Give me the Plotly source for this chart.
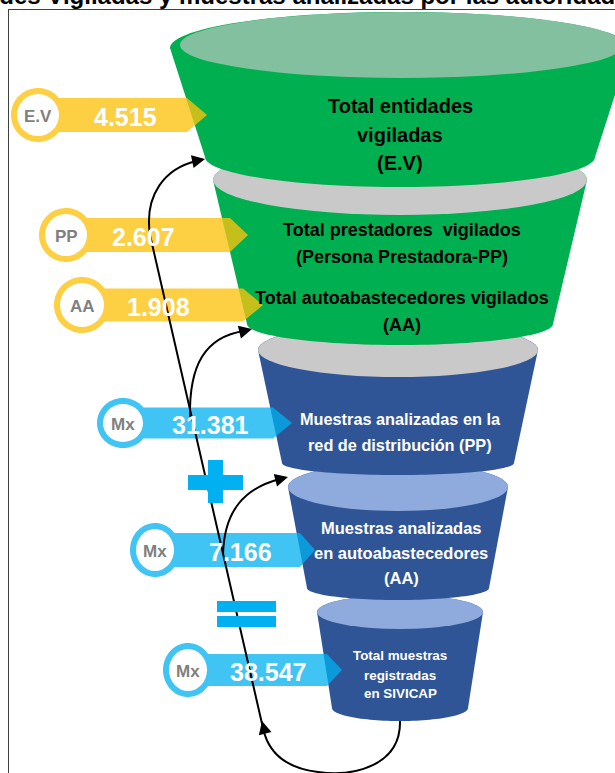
import numpy as np
import plotly.graph_objects as go

# ---------------- data ----------------
title_text = "Entidades Vigiladas y muestras analizadas por las autoridades sanitarias"
badge_labels = ["E.V", "PP", "AA", "Mx", "Mx", "Mx"]
badge_values = [4515, 2607, 1908, 31381, 7166, 38547]
badge_groups = ["entidades", "entidades", "entidades", "muestras", "muestras", "muestras"]
stage_lines = [
    ["Total entidades", "vigiladas", "(E.V)"],
    ["Total prestadores  vigilados", "(Persona Prestadora-PP)",
     "Total autoabastecedores vigilados", "(AA)"],
    ["Muestras analizadas en la", "red de distribución (PP)"],
    ["Muestras analizadas", "en autoabastecedores", "(AA)"],
    ["Total muestras", "registradas", "en SIVICAP"],
]

# ---------------- layout / style ----------------
W, H = 615, 773
FONT = "Liberation Sans, Arial, sans-serif"
GREEN, LGREEN = "#00B050", "#83C09F"
DBLUE, LBLUE, GRAY = "#2F5597", "#8FAADC", "#C9C9C9"
group_color = {"entidades": "rgba(252,195,14,0.78)", "muestras": "rgba(0,176,240,0.75)"}

segments = [
    dict(cx=400, ty=48, trx=230, tr=36, by=157, brx=195, br=30, body=GREEN, cap=(402, 45, 222, 33, LGREEN)),
    dict(cx=400, ty=180, trx=187, tr=35, by=324, brx=153, br=21, body=GREEN, cap=(400, 180, 187, 35, GRAY)),
    dict(cx=398, ty=350, trx=140, tr=27, by=463, brx=116, br=12, body=DBLUE, cap=(398, 350, 140, 27, GRAY)),
    dict(cx=398, ty=487, trx=110, tr=24, by=588, brx=91, br=12, body=DBLUE, cap=(398, 487, 110, 24, LBLUE)),
    dict(cx=400, ty=612, trx=83, tr=17, by=708, brx=68, br=13, body=DBLUE, cap=(400, 612, 83, 17, LBLUE)),
]
stage_text_pos = [
    dict(x=400, ys=[106, 135, 163], size=20, color="black"),
    dict(x=402, ys=[230, 257, 298, 325], size=18, color="black"),
    dict(x=400, ys=[419, 445], size=16.3, color="white"),
    dict(x=401, ys=[528, 553, 578], size=16.5, color="white"),
    dict(x=400, ys=[655, 675, 693], size=13.4, color="white"),
]
badge_geom = [
    dict(cx=38, cy=115, rx=27, ry=27, hh=17, end=187, tip=207, vx=125),
    dict(cx=66, cy=235, rx=27, ry=27, hh=17, end=230, tip=248, vx=143),
    dict(cx=82, cy=305, rx=28, ry=28, hh=16.5, end=243, tip=263, vx=158),
    dict(cx=123, cy=423, rx=26, ry=25, hh=15.5, end=273, tip=292, vx=210),
    dict(cx=155, cy=550, rx=25, ry=27, hh=17, end=300, tip=315, vx=240),
    dict(cx=188, cy=670, rx=25, ry=27, hh=16, end=327, tip=342, vx=268),
]


def fmt(v):
    return f"{v:,}".replace(",", ".")


def pts_path(xs, ys, close=True):
    s = "M " + " L ".join(f"{x:.2f},{y:.2f}" for x, y in zip(xs, ys))
    return s + (" Z" if close else "")


shapes = []
annotations = []

# frame
shapes.append(dict(type="line", x0=8.5, x1=8.5, y0=9, y1=H + 5, line=dict(color="#404040", width=1)))
shapes.append(dict(type="line", x0=8, x1=W + 5, y0=9.5, y1=9.5, line=dict(color="#404040", width=1)))

# funnel (bottom segment first so upper ones overlap)
for seg in reversed(segments):
    cx = seg["cx"]
    t = np.linspace(np.pi, 0, 60)
    bx = cx + seg["brx"] * np.cos(t)
    byy = seg["by"] + seg["br"] * np.sin(t)
    t2 = np.linspace(0, np.pi, 60)
    tx = cx + seg["trx"] * np.cos(t2)
    tyy = seg["ty"] - seg["tr"] * np.sin(t2)
    shapes.append(dict(type="path", path=pts_path(np.concatenate([bx, tx]), np.concatenate([byy, tyy])),
                       fillcolor=seg["body"], line=dict(width=0)))
    ccx, ccy, crx, cry, ccol = seg["cap"]
    shapes.append(dict(type="circle", x0=ccx - crx, x1=ccx + crx, y0=ccy - cry, y1=ccy + cry,
                       fillcolor=ccol, line=dict(width=0)))

# stage texts
for lines, pos in zip(stage_lines, stage_text_pos):
    for txt, y in zip(lines, pos["ys"]):
        annotations.append(dict(x=pos["x"], y=y, text=f"<b>{txt}</b>", showarrow=False,
                                font=dict(family=FONT, size=pos["size"], color=pos["color"]),
                                xanchor="center", yanchor="middle"))

# badges
for lab, val, grp, g in zip(badge_labels, badge_values, badge_groups, badge_geom):
    cx, cy, rx, ry, hh = g["cx"], g["cy"], g["rx"], g["ry"], g["hh"]
    t0 = np.arcsin(hh / ry)
    xs = [cx + rx * np.cos(t0), g["end"], g["tip"], g["end"], cx + rx * np.cos(t0)]
    ys = [cy - hh, cy - hh, cy, cy + hh, cy + hh]
    tt = np.linspace(-t0, -2 * np.pi + t0, 80)
    xs += list(cx + rx * np.cos(tt))
    ys += list(cy - ry * np.sin(tt))
    shapes.append(dict(type="path", path=pts_path(xs, ys), fillcolor=group_color[grp], line=dict(width=0)))
    shapes.append(dict(type="circle", x0=cx - rx + 6, x1=cx + rx - 6, y0=cy - ry + 6, y1=cy + ry - 6,
                       fillcolor="white", line=dict(width=0)))
    annotations.append(dict(x=cx, y=cy + 1, text=f"<b>{lab}</b>", showarrow=False,
                            font=dict(family=FONT, size=17, color="#7F7F7F"),
                            xanchor="center", yanchor="middle"))
    annotations.append(dict(x=g["vx"], y=cy + 2, text=f"<b>{fmt(val)}</b>", showarrow=False,
                            font=dict(family=FONT, size=25, color="white"),
                            xanchor="center", yanchor="middle"))

# connector curves
curves = [
    "M 400,721 C 401,765 355,777 318,772 C 285,768 268,752 263,728 L 150,235 C 144,195 165,168 197,161",
    "M 190,417 C 189,365 205,337 244,331",
    "M 223,555 C 224,510 245,488 280,479",
]
for c in curves:
    shapes.append(dict(type="path", path=c, line=dict(color="black", width=2), fillcolor="rgba(0,0,0,0)"))


def arrowhead(tip, d, L=13, w=6.5):
    d = np.array(d, float)
    d /= np.linalg.norm(d)
    n = np.array([-d[1], d[0]])
    tip = np.array(tip, float)
    b = tip - L * d
    p1, p2 = b + w * n, b - w * n
    return pts_path([tip[0], p1[0], p2[0]], [tip[1], p1[1], p2[1]])


for tip, d in [((205, 159), (33, -7)), ((252, 329), (8, -2)), ((288, 477), (35, -9)), ((262, 721), (-0.25, -1))]:
    shapes.append(dict(type="path", path=arrowhead(tip, d), fillcolor="black", line=dict(width=0)))

# plus and equals signs
SIGN = "#00B0F0"
shapes.append(dict(type="rect", x0=188, x1=243, y0=475, y1=490, fillcolor=SIGN, line=dict(width=0)))
shapes.append(dict(type="rect", x0=208, x1=223, y0=460, y1=503, fillcolor=SIGN, line=dict(width=0)))
shapes.append(dict(type="rect", x0=217, x1=276, y0=601, y1=612, fillcolor=SIGN, line=dict(width=0)))
shapes.append(dict(type="rect", x0=217, x1=276, y0=616, y1=627, fillcolor=SIGN, line=dict(width=0)))

# title (cut at the top edge, as in the reference) - paper coordinates
annotations.append(dict(xref="paper", yref="paper", x=-76 / W, y=1 + 4 / H,
                        text=f"<b>{title_text}</b>", showarrow=False,
                        font=dict(family=FONT, size=24, color="black"),
                        xanchor="left", yanchor="middle"))

fig = go.Figure()
fig.add_trace(go.Scatter(x=[0, W], y=[0, H], mode="markers", marker=dict(opacity=0), hoverinfo="skip",
                         showlegend=False))
fig.update_layout(
    width=W, height=H, margin=dict(l=0, r=0, t=0, b=0),
    paper_bgcolor="white", plot_bgcolor="white",
    xaxis=dict(range=[0, W], visible=False, fixedrange=True),
    yaxis=dict(range=[H, 0], visible=False, fixedrange=True),
    shapes=shapes, annotations=annotations, showlegend=False,
)
fig.write_html("out.html", config={"displayModeBar": False},
               post_script="document.body.style.margin='0';document.body.style.overflow='hidden';")
